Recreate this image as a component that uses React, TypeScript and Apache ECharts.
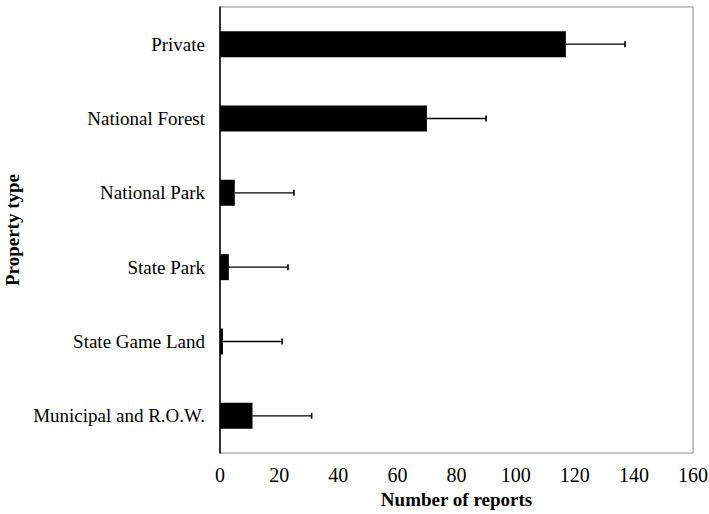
import React, { useEffect, useRef } from "react";
import * as echarts from "echarts";

const categories = [
  "Private",
  "National Forest",
  "National Park",
  "State Park",
  "State Game Land",
  "Municipal and R.O.W.",
];
const reports = [117, 70, 5, 3, 1, 11];
const errors = [20, 20, 20, 20, 20, 20];
const xTicks = { min: 0, max: 160, interval: 20 };

export default function App() {
  const ref = useRef<HTMLDivElement>(null);
  useEffect(() => {
    if (!ref.current) return;
    const chart = echarts.init(ref.current, undefined, { renderer: "svg" });
    const font = "'Liberation Serif', 'Times New Roman', serif";
    chart.setOption({
      animation: false,
      backgroundColor: "#fff",
      textStyle: { fontFamily: font },
      grid: {
        left: 220,
        right: 16,
        top: 7,
        bottom: 61,
        containLabel: false,
        outerBoundsMode: "none",
        show: true,
        borderColor: "#8c8c8c",
        borderWidth: 1,
        backgroundColor: "transparent",
      },
      xAxis: {
        type: "value",
        min: xTicks.min,
        max: xTicks.max,
        interval: xTicks.interval,
        axisLine: { show: false },
        axisTick: { show: false },
        splitLine: { show: false },
        axisLabel: { color: "#000", fontSize: 20, margin: 12, fontFamily: font },
        name: "Number of reports",
        nameLocation: "middle",
        nameGap: 37,
        nameTextStyle: { color: "#000", fontSize: 19, fontWeight: "bold", fontFamily: font },
      },
      yAxis: {
        type: "category",
        data: categories,
        inverse: true,
        axisLine: { show: true, lineStyle: { color: "#000", width: 1.5 } },
        axisTick: { show: false },
        axisLabel: { color: "#000", fontSize: 19, margin: 15, fontFamily: font },
        name: "Property type",
        nameLocation: "middle",
        nameGap: 194,
        nameTextStyle: { color: "#000", fontSize: 19, fontWeight: "bold", fontFamily: font },
      },
      series: [
        {
          type: "bar",
          data: reports,
          barWidth: 26,
          itemStyle: { color: "#000" },
        },
        {
          type: "custom",
          data: reports.map((v, i) => [v, i, v + errors[i]]),
          encode: { x: [0, 2], y: 1 },
          renderItem: (params: any, api: any) => {
            const y = api.value(1);
            const s = api.coord([api.value(0), y]);
            const e = api.coord([api.value(2), y]);
            return {
              type: "group",
              children: [
                {
                  type: "line",
                  shape: { x1: s[0], y1: s[1], x2: e[0], y2: e[1] },
                  style: { stroke: "#000", lineWidth: 1.3 },
                },
                {
                  type: "line",
                  shape: { x1: e[0], y1: e[1] - 3, x2: e[0], y2: e[1] + 3 },
                  style: { stroke: "#000", lineWidth: 1.6 },
                },
              ],
            };
          },
          z: 3,
        },
      ],
    });
    return () => chart.dispose();
  }, []);
  return (
    <div
      ref={ref}
      style={{ position: "fixed", left: 0, top: 0, width: 709, height: 514 }}
    />
  );
}
